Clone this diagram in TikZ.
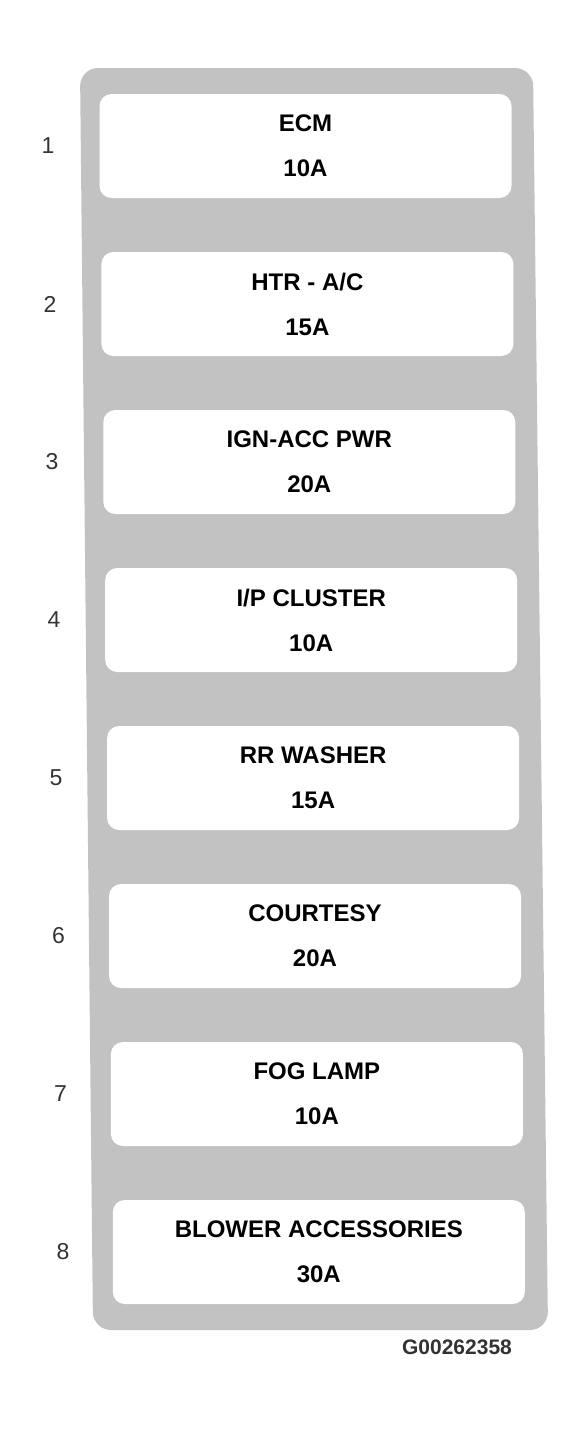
\documentclass[tikz,border=0pt]{standalone}
\usepackage{fontspec}
\setmainfont{Liberation Sans}
\definecolor{framegray}{HTML}{C2C2C2}
\begin{document}
\begin{tikzpicture}[x=1pt,y=-1pt,
  frame/.style={fill=framegray, rounded corners=18pt},
  fusebox/.style={fill=white, rounded corners=12pt, inner sep=0pt, align=center,
    minimum width=412pt, minimum height=104pt,
    font=\fontsize{24}{45}\selectfont\bfseries},
  numlabel/.style={font=\fontsize{23}{26}\selectfont, text=black!80, inner sep=0pt},
  figlabel/.style={font=\fontsize{21}{24}\selectfont\bfseries, text=black!80, inner sep=0pt}
]
\useasboundingbox (0,0) rectangle (586,1438);
\fill[white] (0,0) rectangle (586,1438);
% gray frame
\path[frame] (80,68) -- (533,68) -- (548,1330) -- (93,1330) -- cycle;
% fuse boxes
\node[fusebox] (f1) at (305.5,146)  {ECM\\10A};
\node[fusebox] (f2) at (307.4,304)  {HTR - A/C\\15A};
\node[fusebox] (f3) at (309.3,462)  {IGN-ACC PWR\\20A};
\node[fusebox] (f4) at (311.2,620)  {I/P CLUSTER\\10A};
\node[fusebox] (f5) at (313.1,778)  {RR WASHER\\15A};
\node[fusebox] (f6) at (315.0,936)  {COURTESY\\20A};
\node[fusebox] (f7) at (316.9,1094) {FOG LAMP\\10A};
\node[fusebox] (f8) at (318.8,1252) {BLOWER ACCESSORIES\\30A};
% position numbers
\node[numlabel] (n1) at (48,146)   {1};
\node[numlabel] (n2) at (50,304)   {2};
\node[numlabel] (n3) at (52,462)   {3};
\node[numlabel] (n4) at (54,620)   {4};
\node[numlabel] (n5) at (56,778)   {5};
\node[numlabel] (n6) at (58.5,936) {6};
\node[numlabel] (n7) at (60.5,1094){7};
\node[numlabel] (n8) at (63,1252)  {8};
% figure id
\node[figlabel] (fig) at (457,1347) {G00262358};
\end{tikzpicture}
\end{document}
